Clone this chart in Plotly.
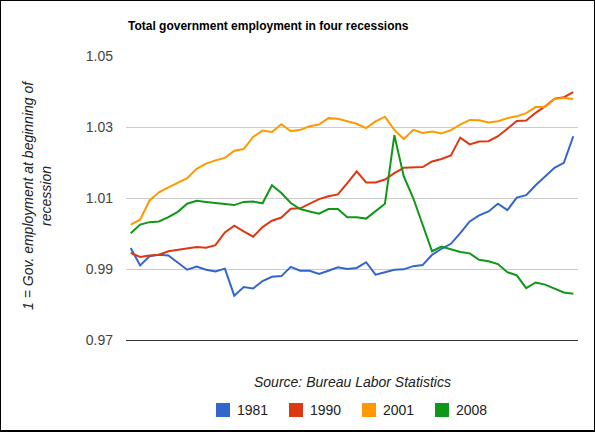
import plotly.graph_objects as go

# ---- data (months since start of recession) ----
months = list(range(48))
s1981 = [0.9959, 0.9910, 0.9936, 0.9940, 0.9938, 0.9919, 0.9898, 0.9907, 0.9898, 0.9893,
         0.9901, 0.9825, 0.9849, 0.9845, 0.9866, 0.9878, 0.9880, 0.9906, 0.9895, 0.9895,
         0.9886, 0.9895, 0.9905, 0.9900, 0.9903, 0.9919, 0.9884, 0.9891, 0.9898, 0.9899,
         0.9908, 0.9911, 0.9940, 0.9957, 0.9971, 1.0001, 1.0034, 1.0051, 1.0062, 1.0084,
         1.0066, 1.0101, 1.0108, 1.0136, 1.0160, 1.0185, 1.0199, 1.0274]
s1990 = [0.9945, 0.9934, 0.9938, 0.9940, 0.9950, 0.9954, 0.9958, 0.9962, 0.9960, 0.9967,
         1.0003, 1.0022, 1.0006, 0.9991, 1.0018, 1.0036, 1.0045, 1.0070, 1.0071, 1.0084,
         1.0097, 1.0105, 1.0110, 1.0142, 1.0175, 1.0144, 1.0144, 1.0152, 1.0170, 1.0185,
         1.0185, 1.0187, 1.0203, 1.0210, 1.0220, 1.0270, 1.0251, 1.0259, 1.0260, 1.0274,
         1.0295, 1.0317, 1.0318, 1.0340, 1.0358, 1.0380, 1.0384, 1.0398]
s2001 = [1.0025, 1.0039, 1.0093, 1.0116, 1.0130, 1.0142, 1.0156, 1.0182, 1.0197, 1.0206,
         1.0213, 1.0233, 1.0238, 1.0272, 1.0290, 1.0286, 1.0308, 1.0288, 1.0292, 1.0302,
         1.0307, 1.0325, 1.0323, 1.0316, 1.0309, 1.0297, 1.0316, 1.0329, 1.0292, 1.0266,
         1.0292, 1.0283, 1.0287, 1.0282, 1.0291, 1.0307, 1.0320, 1.0319, 1.0313, 1.0316,
         1.0325, 1.0330, 1.0339, 1.0356, 1.0356, 1.0379, 1.0382, 1.0379]
s2008 = [1.0001, 1.0025, 1.0032, 1.0034, 1.0046, 1.0061, 1.0084, 1.0092, 1.0089, 1.0085,
         1.0083, 1.0080, 1.0089, 1.0090, 1.0085, 1.0136, 1.0114, 1.0086, 1.0069, 1.0062,
         1.0056, 1.0069, 1.0069, 1.0046, 1.0046, 1.0042, 1.0062, 1.0084, 1.0277, 1.0161,
         1.0100, 1.0025, 0.9950, 0.9963, 0.9956, 0.9948, 0.9944, 0.9926, 0.9922, 0.9914,
         0.9891, 0.9882, 0.9846, 0.9862, 0.9856, 0.9844, 0.9834, 0.9830]

series = [s1981, s1990, s2001, s2008]
names = ["1981", "1990", "2001", "2008"]
colors = ["#3366CC", "#DC3912", "#FF9900", "#109618"]
yticks = [0.97, 0.99, 1.01, 1.03, 1.05]
ytick_text = ["0.97", "0.99", "1.01", "1.03", "1.05"]

title = "Total government employment in four recessions"
ytitle = "1 = Gov. employment at beginning of<br>recession"
source = "Source: Bureau Labor Statistics"

# ---- layout geometry (pixels) ----
W, H = 595, 432
L, R, T, B = 126, 17, 56, 92
pw, ph = W - L - R, H - T - B
FONT = "Liberation Sans, Arial, sans-serif"


def px(x):
    return (x - L) / pw


def py(y):
    return (H - B - y) / ph


fig = go.Figure()
for s, n, c in zip(series, names, colors):
    fig.add_trace(go.Scatter(x=months, y=s, mode="lines", name=n,
                             line=dict(color=c, width=2), showlegend=False))

annotations = [
    dict(text="<b>" + title + "</b>", x=px(126), y=py(26), xref="paper", yref="paper",
         xanchor="left", yanchor="middle", showarrow=False,
         font=dict(family=FONT, size=12, color="#000000")),
    dict(text="<i>" + ytitle + "</i>", x=px(37), y=py(195), xref="paper", yref="paper",
         xanchor="center", yanchor="middle", showarrow=False, textangle=-90,
         font=dict(family=FONT, size=14, color="#222222")),
    dict(text="<i>" + source + "</i>", x=px(352), y=py(382), xref="paper", yref="paper",
         xanchor="center", yanchor="middle", showarrow=False,
         font=dict(family=FONT, size=14, color="#222222")),
]
shapes = []
for i, (n, c) in enumerate(zip(names, colors)):
    x0 = 216 + 73 * i
    shapes.append(dict(type="rect", xref="paper", yref="paper",
                       x0=px(x0), x1=px(x0 + 14), y0=py(403), y1=py(417),
                       fillcolor=c, line=dict(width=0)))
    annotations.append(dict(text=n, x=px(x0 + 19), y=py(410), xref="paper", yref="paper",
                            xanchor="left", yanchor="middle", showarrow=False,
                            font=dict(family=FONT, size=14, color="#222222")))

# outer border
shapes.append(dict(type="rect", xref="paper", yref="paper",
                   x0=px(0), x1=px(595), y0=py(0), y1=py(431),
                   line=dict(color="#000000", width=2), fillcolor="rgba(0,0,0,0)"))

fig.update_layout(
    width=W, height=H,
    margin=dict(l=L, r=R, t=T, b=B, pad=0),
    paper_bgcolor="white", plot_bgcolor="white",
    font=dict(family=FONT),
    annotations=annotations, shapes=shapes,
    xaxis=dict(range=[-0.5, 47.5], showgrid=False, zeroline=False,
               showticklabels=False, showline=True, linecolor="#333333", linewidth=1,
               ticks=""),
    yaxis=dict(range=[0.97, 1.05], tickvals=yticks, ticktext=ytick_text,
               showgrid=True, gridcolor="#CCCCCC", gridwidth=1, zeroline=False,
               showline=False, ticks="", ticklabelstandoff=12,
               tickfont=dict(family=FONT, size=14, color="#444444")),
)

fig.write_html("out.html")
